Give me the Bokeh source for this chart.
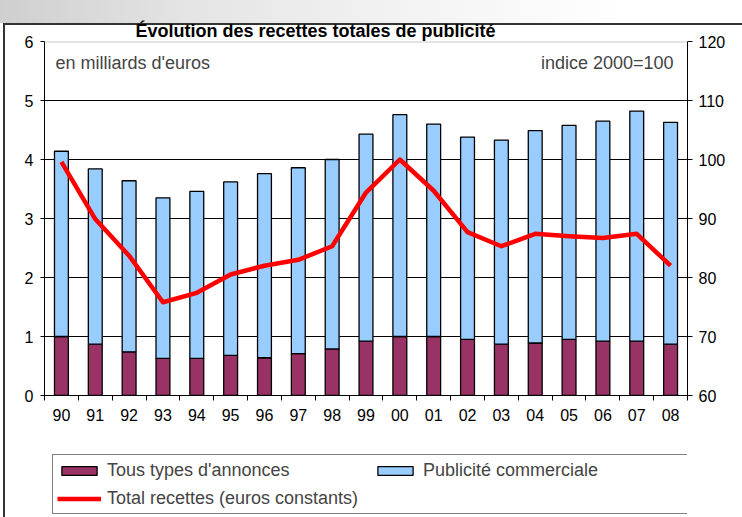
from bokeh.plotting import figure
from bokeh.layouts import column
from bokeh.models import (ColumnDataSource, Range1d, LinearAxis, FixedTicker,
                          Legend, LegendItem, Label, Span)
from bokeh.embed import file_html
from bokeh.resources import INLINE

# ---- data ----
years = ["90", "91", "92", "93", "94", "95", "96", "97", "98", "99",
         "00", "01", "02", "03", "04", "05", "06", "07", "08"]
annonces = [1.00, 0.87, 0.74, 0.63, 0.63, 0.68, 0.64, 0.71, 0.79, 0.92,
            1.00, 1.00, 0.95, 0.87, 0.89, 0.95, 0.92, 0.92, 0.87]
commerciale = [3.14, 2.97, 2.90, 2.72, 2.83, 2.94, 3.12, 3.15, 3.21, 3.51,
               3.76, 3.60, 3.43, 3.46, 3.60, 3.63, 3.73, 3.90, 3.76]
indice = [99.6, 89.9, 83.7, 75.8, 77.4, 80.5, 82.0, 83.0, 85.3, 94.4,
          100.0, 94.7, 87.7, 85.3, 87.4, 87.0, 86.7, 87.4, 82.0]
left_ticks = [0, 1, 2, 3, 4, 5, 6]
right_ticks = [60, 70, 80, 90, 100, 110, 120]
labels = ["Tous types d'annonces", "Publicité commerciale",
          "Total recettes (euros constants)"]

FONT = "Liberation Sans"
PURPLE = "#993366"
BLUE = "#99CCFF"
RED = "#FF0000"

xs = list(range(len(years)))
src = ColumnDataSource(dict(x=xs, annonces=annonces, commerciale=commerciale,
                            indice=indice))

p = figure(width=742, height=440, output_backend="svg", toolbar_location=None,
           x_range=Range1d(-0.5, len(years) - 0.5), y_range=Range1d(0, 6),
           min_border_left=44, min_border_right=55, min_border_top=41,
           min_border_bottom=45)
p.extra_y_ranges = {"idx": Range1d(60, 120)}
p.outline_line_color = None
p.background_fill_color = "white"
p.border_fill_color = None

# title
p.title.text = "Évolution des recettes totales de publicité"
p.title.text_font = FONT
p.title.text_font_size = "18px"
p.title.text_font_style = "bold"
p.title.text_color = "black"
p.title.align = "left"
p.title.offset = 91
p.title.standoff = 2

# grid
p.xgrid.grid_line_color = None
p.ygrid.ticker = FixedTicker(ticks=left_ticks[1:-1])
p.ygrid.grid_line_color = "black"
p.ygrid.grid_line_width = 1
p.add_layout(Span(location=6, dimension="width", line_color="#c8c8c8",
                  line_width=2))

# left axis
ya = p.yaxis[0]
ya.ticker = FixedTicker(ticks=left_ticks)
ya.major_tick_out = 4
ya.major_tick_in = 0
ya.minor_tick_line_color = None
ya.major_label_standoff = 7
ya.axis_line_color = "black"
ya.major_label_text_font = FONT
ya.major_label_text_font_size = "16px"
ya.major_label_text_color = "black"

# right axis
ra = LinearAxis(y_range_name="idx", ticker=FixedTicker(ticks=right_ticks))
ra.major_tick_out = 5
ra.major_tick_in = 0
ra.minor_tick_line_color = None
ra.major_label_standoff = 6
ra.axis_line_color = "black"
ra.major_label_text_font = FONT
ra.major_label_text_font_size = "16px"
ra.major_label_text_color = "black"
p.add_layout(ra, "right")

# bottom axis
xa = p.xaxis[0]
xa.ticker = FixedTicker(ticks=xs, minor_ticks=[i - 0.5 for i in range(len(years) + 1)])
xa.major_label_overrides = {i: y for i, y in enumerate(years)}
xa.major_tick_line_color = None
xa.major_tick_out = 5
xa.major_tick_in = 0
xa.minor_tick_out = 5
xa.minor_tick_in = 0
xa.minor_tick_line_color = "black"
xa.major_label_standoff = 8
xa.axis_line_color = "black"
xa.major_label_text_font = FONT
xa.major_label_text_font_size = "16px"
xa.major_label_text_color = "black"

# bars + line
p.vbar_stack(["annonces", "commerciale"], x="x", width=0.41,
             fill_color=[PURPLE, BLUE], line_color="black",
             line_width=1.3, source=src)
p.line("x", "indice", source=src, y_range_name="idx", line_color=RED,
       line_width=4.5, line_join="round")

# texts
p.add_layout(Label(x=-0.175, y=5.63, text="en milliards d'euros", text_font=FONT,
                   text_font_size="18px", text_baseline="middle"))
p.add_layout(Label(x=18.09, y=5.63, text="indice 2000=100", text_font=FONT,
                   text_font_size="18px", text_baseline="middle",
                   text_align="right"))

# ---- legend strip below the chart ----
q = figure(width=742, height=77, output_backend="svg", toolbar_location=None,
           x_range=Range1d(0, 1), y_range=Range1d(0, 1),
           min_border=0, x_axis_location=None, y_axis_location=None)
q.grid.grid_line_color = None
q.outline_line_color = None
q.background_fill_color = None
q.border_fill_color = None
nan = float("nan")
swatch_src = ColumnDataSource(dict(x=[nan], top=[nan], y=[nan]))
sw1 = q.vbar(x="x", top="top", width=0.1, source=swatch_src, fill_color=PURPLE,
             line_color="black", line_width=1.3)
sw2 = q.vbar(x="x", top="top", width=0.1, source=swatch_src, fill_color=BLUE,
             line_color="black", line_width=1.3)
sw3 = q.line(x="x", y="y", source=swatch_src, line_color=RED, line_width=4.5)

legend = Legend(items=[LegendItem(label=labels[0], renderers=[sw1]),
                       LegendItem(label=labels[1], renderers=[sw2]),
                       LegendItem(label=labels[2], renderers=[sw3])],
                location=(8, 3), orientation="horizontal", ncols=2,
                glyph_width=44, glyph_height=11, label_height=22, label_width=260,
                label_text_font=FONT, label_text_font_size="18px",
                label_standoff=6, spacing=6, padding=4, margin=0,
                border_line_color="black", border_line_width=1,
                background_fill_color="white", background_fill_alpha=1)
q.add_layout(legend, "center")

layout = column(p, q, spacing=0)
layout.styles = {
    "background": (
        "linear-gradient(#333,#333) 3px 23px / 2px 494px no-repeat, "
        "linear-gradient(#333,#333) 3px 23px / 739px 2px no-repeat, "
        "linear-gradient(to right, #cfcfcf 0%, #e4e4e4 25%, #f3f3f3 55%, #ffffff 85%) 0 0 / 742px 23px no-repeat, "
        "#ffffff"
    )
}

open("out.html", "w").write(file_html(layout, INLINE))
